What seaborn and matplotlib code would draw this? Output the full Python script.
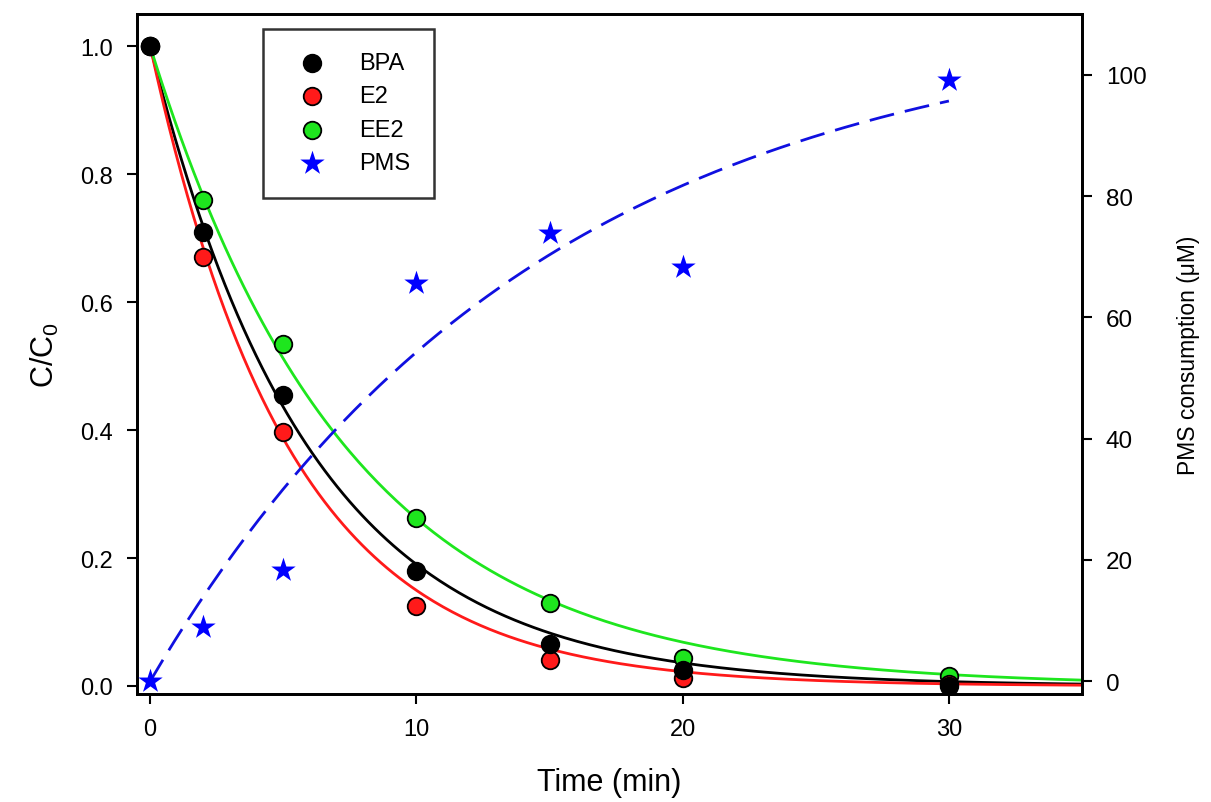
import numpy as np
import pandas as pd
import matplotlib.pyplot as plt
import seaborn as sns

sns.set_theme(style='ticks')
plt.rcParams['font.family'] = ['Liberation Sans', 'DejaVu Sans']
plt.rcParams['mathtext.default'] = 'regular'
plt.rcParams['text.color'] = 'black'
plt.rcParams['axes.labelcolor'] = 'black'
plt.rcParams['xtick.color'] = 'black'
plt.rcParams['ytick.color'] = 'black'

# Measured data
time = [0, 2, 5, 10, 15, 20, 30]
bpa = [1.0, 0.71, 0.455, 0.18, 0.065, 0.025, 0.0]
e2 = [1.0, 0.67, 0.397, 0.125, 0.04, 0.013, 0.003]
ee2 = [1.0, 0.76, 0.535, 0.263, 0.13, 0.043, 0.015]
pms = [0.0, 8.9, 18.3, 65.6, 74.0, 68.4, 99.2]

# Fitted parameters (C/C0 = exp(-k t), PMS = a (1 - exp(-b t)))
k_bpa, k_e2, k_ee2 = 0.166, 0.19, 0.134
pms_a, pms_b = 110.0, 0.068

df = pd.DataFrame({'Time': time, 'BPA': bpa, 'E2': e2, 'EE2': ee2, 'PMS': pms})
t_fit = np.linspace(0, 35, 300)
fit_df = pd.DataFrame({'Time': t_fit,
                       'BPA': np.exp(-k_bpa * t_fit),
                       'E2': np.exp(-k_e2 * t_fit),
                       'EE2': np.exp(-k_ee2 * t_fit)})
t_pms = np.linspace(0, 30, 200)
pms_fit = pd.DataFrame({'Time': t_pms, 'PMS': pms_a * (1 - np.exp(-pms_b * t_pms))})

colors = {'BPA': 'black', 'E2': '#ff1a1a', 'EE2': '#1ee61e'}

fig = plt.figure(figsize=(12.11, 8.03), dpi=100)
ax = fig.add_axes([0.113, 0.1345, 0.7805, 0.8465])
ax2 = ax.twinx()

for name in ['BPA', 'E2', 'EE2']:
    sns.lineplot(data=fit_df, x='Time', y=name, color=colors[name], lw=2, ax=ax, zorder=2)
for name in ['EE2', 'E2', 'BPA']:
    sns.scatterplot(data=df, x='Time', y=name, color=colors[name], s=160, edgecolor='black',
                    linewidth=1.3, ax=ax, zorder=3, label=name)

sns.lineplot(data=pms_fit, x='Time', y='PMS', color='#1010e0', lw=2, ax=ax2)
ax2.lines[-1].set_dashes((9, 4))
sns.scatterplot(data=df, x='Time', y='PMS', color='#0000ff', marker='*', s=340, linewidth=0,
                ax=ax2, zorder=4, label='PMS')

ax.set_xlim(-0.5, 35)
ax.set_ylim(-0.0125, 1.05)
ax2.set_ylim(-2.1, 110)
ax.set_xticks([0, 10, 20, 30])
ax.set_yticks([0.0, 0.2, 0.4, 0.6, 0.8, 1.0])
ax2.set_yticks([0, 20, 40, 60, 80, 100])
ax.set_yticklabels(['0.0', '0.2', '0.4', '0.6', '0.8', '1.0'])

ax.set_xlabel('Time (min)', fontsize=22, labelpad=20)
ax.set_ylabel('C/C$_0$', fontsize=22, labelpad=14)
ax2.set_ylabel('PMS consumption (\u03bcM)', fontsize=16.5, labelpad=22)

for a in (ax, ax2):
    a.tick_params(direction='out', length=7, width=1.5, labelsize=17, pad=10)
    for s in a.spines.values():
        s.set_linewidth(2)
        s.set_color('black')
        s.set_visible(True)
ax2.tick_params(labelsize=17.5)

# Legend
h1, l1 = ax.get_legend_handles_labels()
h2, l2 = ax2.get_legend_handles_labels()
hd = dict(zip(l1 + l2, h1 + h2))
order = ['BPA', 'E2', 'EE2', 'PMS']
if ax.get_legend():
    ax.get_legend().remove()
leg = ax2.legend([hd[o] for o in order], order, loc='upper left', bbox_to_anchor=(0.133, 0.979),
                 fontsize=17, frameon=True, fancybox=False, edgecolor='black',
                 borderpad=1.0, labelspacing=0.48, handletextpad=0.9, borderaxespad=0,
                 handlelength=2.2)
leg.get_frame().set_linewidth(1.8)

plt.savefig('out.png', dpi=100)
